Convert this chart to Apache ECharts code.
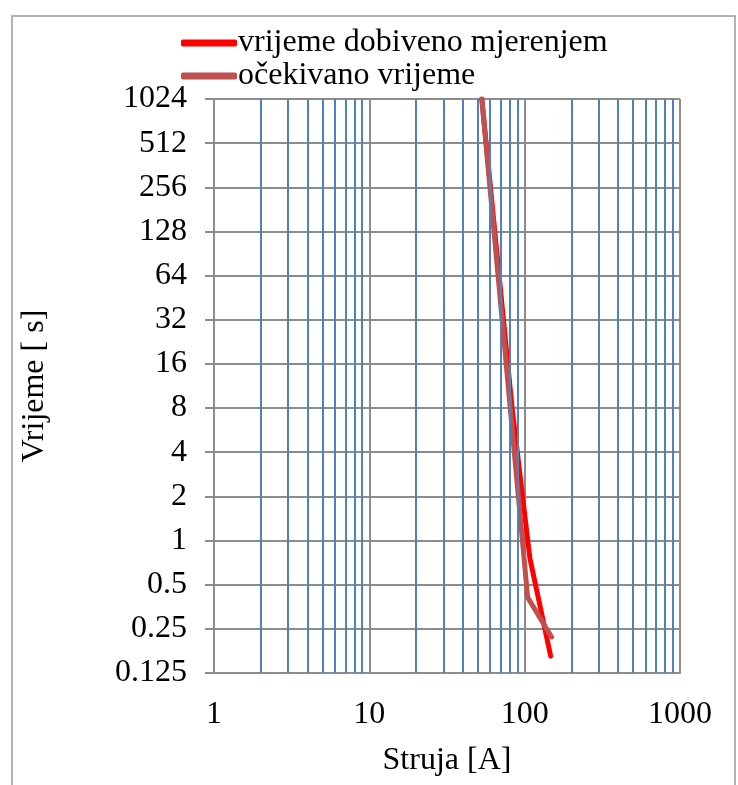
<!DOCTYPE html>
<html>
<head>
<meta charset="utf-8">
<script src="https://cdn.jsdelivr.net/npm/echarts@6/dist/echarts.min.js"></script>
<style>
html,body{margin:0;padding:0;background:#fff;}
#chart{width:738px;height:785px;}
</style>
</head>
<body>
<div id="chart"></div>
<script>
// Data
const measuredCurrent = [53, 83, 108, 147];
const measuredTime = [1024, 8, 0.76, 0.163];
const expectedCurrent = [53, 104.5, 149];
const expectedTime = [1024, 0.41, 0.22];
const minorCurrentLines = [2,3,4,5,6,7,8,9,20,30,40,50,60,70,80,90,200,300,400,500,600,700,800,900];
const seriesNames = ['vrijeme dobiveno mjerenjem', 'očekivano vrijeme'];
const xTitle = 'Struja [A]';
const yTitle = 'Vrijeme [ s]';

const FONT = 'Liberation Serif';
const FS = 32;
const GRAY = '#8C8C8C';
const BLUE = '#4F81BD';

function zip(a, b) { return a.map((v, i) => [v, b[i]]); }
function fmt(v) { return String(Number(Number(v).toPrecision(6))); }

const chart = echarts.init(document.getElementById('chart'));
chart.setOption({
  animation: false,
  backgroundColor: '#fff',
  textStyle: { fontFamily: FONT, color: '#000' },
  graphic: [{
    type: 'rect',
    shape: { x: 12, y: 16, width: 723, height: 800 },
    style: { fill: 'none', stroke: '#9a9a9a', lineWidth: 1.5 },
    silent: true,
    z: -10
  }],
  legend: {
    orient: 'vertical',
    left: 176,
    top: 22,
    itemWidth: 56,
    itemHeight: 7,
    itemGap: 1,
    icon: 'roundRect',
    textStyle: { fontFamily: FONT, fontSize: FS, color: '#000', lineHeight: 32, padding: [0,0,0,-4] },
    data: seriesNames
  },
  grid: { left: 214, right: 58, top: 99, bottom: 112, containLabel: false },
  xAxis: {
    type: 'log',
    logBase: 10,
    min: 1,
    max: 1000,
    z: 0,
    name: xTitle,
    nameLocation: 'middle',
    nameGap: 72,
    nameTextStyle: { fontFamily: FONT, fontSize: FS, color: '#000' },
    axisLine: { show: true, lineStyle: { color: GRAY, width: 2 } },
    axisTick: { show: false },
    axisLabel: { fontFamily: FONT, fontSize: FS, color: '#000', margin: 26, formatter: fmt },
    splitLine: { show: true, lineStyle: { color: GRAY, width: 2 } },
    minorTick: { show: false },
    minorSplitLine: { show: false }
  },
  yAxis: {
    type: 'log',
    logBase: 2,
    min: 0.125,
    max: 1024,
    interval: 1,
    z: 1.5,
    name: yTitle,
    nameLocation: 'middle',
    nameGap: 163,
    nameTextStyle: { fontFamily: FONT, fontSize: FS, color: '#000' },
    axisLine: { show: true, lineStyle: { color: GRAY, width: 2 } },
    axisTick: { show: true, length: 9, lineStyle: { color: GRAY, width: 2 } },
    axisLabel: {
      fontFamily: FONT, fontSize: FS, color: '#000', margin: 27,
      formatter: fmt
    },
    splitLine: { show: true, lineStyle: { color: GRAY, width: 2 } }
  },
  series: [
    {
      name: '__minor',
      type: 'line',
      data: [],
      z: 1,
      silent: true,
      markLine: {
        silent: true,
        symbol: ['none', 'none'],
        label: { show: false },
        lineStyle: { color: BLUE, width: 2, type: 'solid', opacity: 1 },
        emphasis: { disabled: true },
        data: minorCurrentLines.map(v => ({ xAxis: v }))
      }
    },
    {
      name: seriesNames[0],
      type: 'line',
      data: zip(measuredCurrent, measuredTime),
      showSymbol: false,
      symbol: 'none',
      z: 3,
      lineStyle: { color: '#FF0000', width: 5, cap: 'round', join: 'round' },
      itemStyle: { color: '#FF0000' }
    },
    {
      name: seriesNames[1],
      type: 'line',
      data: zip(expectedCurrent, expectedTime),
      showSymbol: false,
      symbol: 'none',
      z: 4,
      lineStyle: { color: '#C0504D', width: 5, cap: 'round', join: 'round' },
      itemStyle: { color: '#C0504D' }
    }
  ]
});
</script>
</body>
</html>
